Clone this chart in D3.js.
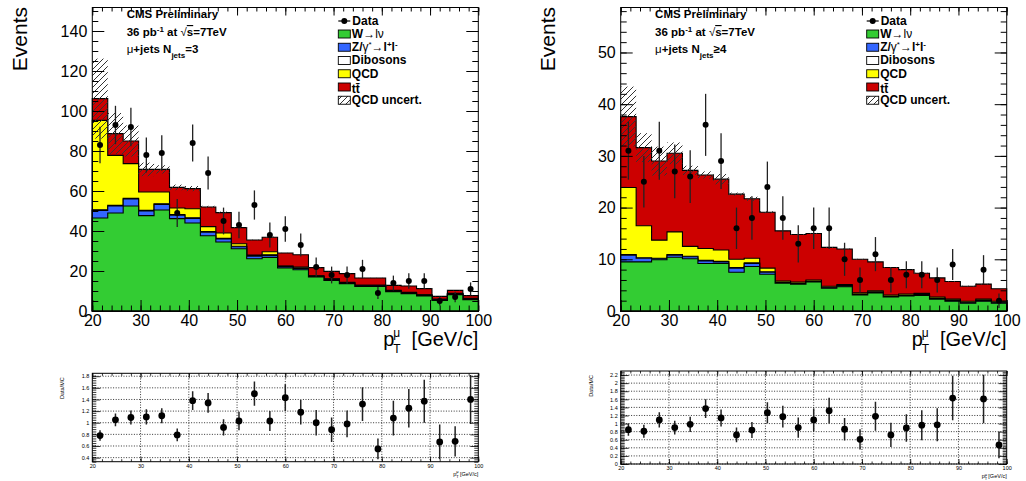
<!DOCTYPE html>
<html>
<head>
<meta charset="utf-8">
<script src="https://cdn.jsdelivr.net/npm/d3@7"></script>
<style>
  body { margin: 0; background: #fff; }
  svg { display: block; }
  text { font-family: "Liberation Sans", Arial, sans-serif; }
</style>
</head>
<body>
<div id="chart"></div>
<script>
// muon pT bins, 3.2 GeV wide
var binEdges = [20, 23.2, 26.4, 29.6, 32.8, 36, 39.2, 42.4, 45.6, 48.8, 52, 55.2, 58.4,
                61.6, 64.8, 68, 71.2, 74.4, 77.6, 80.8, 84, 87.2, 90.4, 93.6, 96.8, 100];
var xTicks = [20, 30, 40, 50, 60, 70, 80, 90, 100];

// ---- mu+jets, Njets = 3 ----
var data3    = [83, 93, 92, 78, 79, 49, 84, 69, 45, 43, 53, 38, 41, 33, 22, 18, 18, 21, 9, 14, 15, 15, 5, 7, 11];
var dataErr3 = [9.1, 9.6, 9.6, 8.8, 8.9, 7.0, 9.2, 8.3, 6.7, 6.6, 7.3, 6.2, 6.4, 5.7, 4.7, 4.2, 4.2, 4.6, 3.0, 3.7, 3.9, 3.9, 2.2, 2.6, 3.3];
var wjets3   = [46.5, 49.0, 52.5, 47.7, 50.5, 46.2, 44.0, 37.6, 34.5, 31.1, 26.1, 26.8, 21.5, 20.6, 17.0, 15.3, 13.7, 12.3, 12.3, 9.7, 8.7, 7.5, 5.3, 8.2, 5.7];
var zjets3   = [3.8, 3.5, 3.5, 2.3, 2.8, 1.7, 2.3, 1.8, 1.5, 1.0, 1.3, 1.0, 0.5, 0.7, 0.3, 0.5, 0.3, 0.3, 0.3, 0.3, 0.3, 0.3, 0.3, 0.3, 0.3];
var dibos3   = [0.3, 0.3, 0.3, 0.3, 0.3, 0.3, 0.3, 0.3, 0.3, 0.3, 0.3, 0.3, 0.3, 0.3, 0.2, 0.2, 0.2, 0.2, 0.2, 0.2, 0.2, 0.2, 0.2, 0.2, 0.2];
var qcd3     = [44.7, 25.0, 17.4, 9.2, 5.9, 3.3, 4.5, 2.5, 2.7, 1.2, 0.3, 1.5, 0.2, 0.4, 0.1, 0.1, 0.1, 0.1, 0.1, 0.1, 0.1, 0.1, 0.1, 0.1, 0.1];
var ttbar3   = [10.9, 10.9, 11.3, 11.3, 11.3, 10.3, 10.1, 9.8, 10.2, 8.1, 7.5, 7.3, 6.5, 6.1, 4.1, 3.7, 4.4, 3.6, 3.6, 2.5, 3.2, 3.1, 1.4, 1.5, 1.4];
var qcdUnc3  = [20, 10.3, 7.8, 3.4, 2.1, 1.4, 1.3, 0.6, 0.5, 0.3, 0.2, 0.3, 0.1, 0.1, 0.1, 0.1, 0.1, 0.1, 0.1, 0.1, 0.1, 0.1, 0.1, 0.1, 0.1];
var ratio3    = [0.78, 1.05, 1.09, 1.10, 1.12, 0.79, 1.38, 1.34, 0.92, 1.03, 1.50, 1.03, 1.43, 1.18, 1.00, 0.88, 0.98, 1.32, 0.55, 1.08, 1.25, 1.37, 0.67, 0.68, 1.40];
var ratioErr3 = [0.09, 0.11, 0.12, 0.13, 0.13, 0.11, 0.16, 0.17, 0.14, 0.16, 0.21, 0.17, 0.23, 0.21, 0.22, 0.21, 0.23, 0.29, 0.18, 0.30, 0.33, 0.37, 0.30, 0.26, 0.42];
var yTicks3 = [0, 20, 40, 60, 80, 100, 120, 140];
var ratioTicks3 = [0.4, 0.6, 0.8, 1, 1.2, 1.4, 1.6, 1.8];

// ---- mu+jets, Njets >= 4 ----
var data4    = [31, 25, 31, 27, 26, 36, 29, 16, 18, 24, 18, 13, 16, 16, 10, 6, 11, 6, 7, 7, 6, 9, null, 8, 2];
var dataErr4 = [5.6, 5.0, 5.6, 5.2, 5.1, 6.0, 5.4, 4.0, 4.2, 4.9, 4.2, 3.6, 4.0, 4.0, 3.2, 2.4, 3.3, 2.4, 2.6, 2.6, 2.4, 3.0, null, 2.8, 1.4];
var wjets4   = [9.5, 9.5, 9.9, 10.4, 10.1, 9.2, 9.2, 7.5, 8.6, 7.1, 5.4, 5.2, 5.6, 4.4, 4.7, 3.1, 3.5, 2.7, 2.9, 3.0, 2.3, 1.9, 1.5, 1.9, 1.5];
var zjets4   = [1.3, 0.7, 0.2, 0.4, 0.4, 0.5, 0.3, 0.8, 0.6, 0.4, 0.1, 0.1, 0.1, 0.1, 0.1, 0.1, 0.1, 0.1, 0.1, 0.1, 0.1, 0.1, 0.1, 0.1, 0.1];
var dibos4   = [0.1, 0.1, 0.1, 0.1, 0.1, 0.1, 0.1, 0.1, 0.1, 0.1, 0.1, 0.1, 0.1, 0.1, 0.1, 0.1, 0.1, 0.1, 0.1, 0.1, 0.1, 0.1, 0.1, 0.1, 0.1];
var qcd4     = [13.0, 6.2, 3.5, 4.4, 1.9, 2.3, 2.2, 1.6, 0.9, 0.7, 0.2, 0.2, 0.2, 0.2, 0.2, 0.2, 0.2, 0.2, 0.2, 0.2, 0.2, 0.2, 0.2, 0.2, 0.2];
var ttbar4   = [13.7, 15.1, 15.3, 15.2, 14.7, 14.2, 13.7, 12.6, 11.5, 10.8, 9.7, 9.2, 9.0, 7.5, 6.9, 6.5, 5.6, 5.3, 4.7, 3.9, 3.7, 3.4, 2.9, 2.9, 2.4];
var qcdUnc4  = [5.8, 2.8, 2.8, 2.1, 0.9, 0.7, 1.0, 0.3, 0.4, 0.2, 0.1, 0.1, 0.1, 0.1, 0.1, 0.1, 0.1, 0.1, 0.1, 0.1, 0.1, 0.1, 0.1, 0.1, 0.1];
var ratio4    = [0.85, 0.81, 1.09, 0.90, 0.98, 1.37, 1.14, 0.72, 0.84, 1.27, 1.17, 0.90, 1.09, 1.32, 0.86, 0.61, 1.18, 0.72, 0.89, 0.96, 0.97, 1.63, null, 1.61, 0.47];
var ratioErr4 = [0.15, 0.16, 0.19, 0.17, 0.19, 0.23, 0.21, 0.18, 0.20, 0.26, 0.27, 0.25, 0.28, 0.32, 0.28, 0.25, 0.36, 0.30, 0.34, 0.37, 0.41, 0.55, null, 0.60, 0.33];
var yTicks4 = [0, 10, 20, 30, 40, 50];
var ratioTicks4 = [0, 0.2, 0.4, 0.6, 0.8, 1, 1.2, 1.4, 1.6, 1.8, 2, 2.2];

var stackKeys = ["w", "z", "vv", "qcd", "tt"];
var stackColors = { w: "#33cc33", z: "#3366ff", vv: "#ffffff", qcd: "#ffff00", tt: "#cc0000" };

var font = "'Liberation Sans', Arial, sans-serif";

var svg = d3.select("#chart").append("svg")
    .attr("width", 1026)
    .attr("height", 481);

svg.append("rect").attr("width", 1026).attr("height", 481).attr("fill", "#fff");

// hatch for QCD uncertainty
var defs = svg.append("defs");
defs.append("pattern")
    .attr("id", "hatch")
    .attr("patternUnits", "userSpaceOnUse")
    .attr("width", 6).attr("height", 6)
    .append("path")
    .attr("d", "M0,6 L6,0 M-1.5,1.5 L1.5,-1.5 M4.5,7.5 L7.5,4.5")
    .attr("stroke", "#333")
    .attr("stroke-width", 1);

function styleAxis(g, size) {
    g.attr("font-family", font).attr("font-size", size);
    g.select(".domain").remove();
    g.selectAll("text").attr("fill", "#000");
}

function drawPanel(p) {
    var g = svg.append("g");
    var top = 7.5, bottom = 311;

    var x = d3.scaleLinear().domain([20, 100]).range([p.x0, p.x1]);
    var y = d3.scaleLinear().domain([0, p.yMax]).range([bottom, top]);

    // table for the stack
    var rows = p.w.map(function(d, i) {
        return { w: p.w[i], z: p.z[i], vv: p.vv[i], qcd: p.qcd[i], tt: p.tt[i] };
    });
    var series = d3.stack().keys(stackKeys)(rows);

    // ROOT-like: draw cumulative histograms from the biggest down
    function histPath(tops) {
        var s = "M" + x(20) + "," + y(0);
        tops.forEach(function(t, i) {
            s += "L" + x(binEdges[i]) + "," + y(t) + "L" + x(binEdges[i + 1]) + "," + y(t);
        });
        return s + "L" + x(100) + "," + y(0) + "Z";
    }
    series.slice().reverse().forEach(function(s) {
        g.append("path")
            .attr("d", histPath(s.map(function(d) { return d[1]; })))
            .attr("fill", stackColors[s.key])
            .attr("stroke", "#000")
            .attr("stroke-width", 1.1);
    });

    // QCD uncertainty band around total
    var total = series[series.length - 1].map(function(d) { return d[1]; });
    g.append("g").selectAll("rect")
        .data(p.unc)
        .enter().append("rect")
        .attr("x", function(d, i) { return x(binEdges[i]); })
        .attr("width", function(d, i) { return x(binEdges[i + 1]) - x(binEdges[i]); })
        .attr("y", function(d, i) { return y(total[i] + d); })
        .attr("height", function(d, i) { return y(total[i] - d) - y(total[i] + d); })
        .attr("fill", "url(#hatch)");

    // data points
    var pts = p.data.map(function(d, i) {
        return { v: d, e: p.err[i], c: (binEdges[i] + binEdges[i + 1]) / 2 };
    }).filter(function(d) { return d.v != null; });
    var dg = g.append("g");
    dg.selectAll("line").data(pts).enter().append("line")
        .attr("x1", function(d) { return x(d.c); })
        .attr("x2", function(d) { return x(d.c); })
        .attr("y1", function(d) { return y(d.v - d.e); })
        .attr("y2", function(d) { return y(d.v + d.e); })
        .attr("stroke", "#222").attr("stroke-width", 1.3);
    dg.selectAll("circle").data(pts).enter().append("circle")
        .attr("cx", function(d) { return x(d.c); })
        .attr("cy", function(d) { return y(d.v); })
        .attr("r", 3)
        .attr("fill", "#000");

    // axes, ticks inside on all four sides
    var yMinor = d3.range(0, p.yMax, p.yMinorStep);
    var xMinor = d3.range(20, 100.01, 2);

    var gl = g.append("g").attr("transform", "translate(" + p.x0 + ",0)")
        .call(d3.axisLeft(y).tickValues(p.yTicks).tickSizeInner(-12).tickSizeOuter(0).tickPadding(5));
    styleAxis(gl, 16);
    styleAxis(g.append("g").attr("transform", "translate(" + p.x0 + ",0)")
        .call(d3.axisLeft(y).tickValues(yMinor).tickSizeInner(-6).tickSizeOuter(0).tickFormat("")), 10);
    styleAxis(g.append("g").attr("transform", "translate(" + p.x1 + ",0)")
        .call(d3.axisRight(y).tickValues(p.yTicks).tickSizeInner(-12).tickSizeOuter(0).tickFormat("")), 10);
    styleAxis(g.append("g").attr("transform", "translate(" + p.x1 + ",0)")
        .call(d3.axisRight(y).tickValues(yMinor).tickSizeInner(-6).tickSizeOuter(0).tickFormat("")), 10);

    var gb = g.append("g").attr("transform", "translate(0," + bottom + ")")
        .call(d3.axisBottom(x).tickValues(xTicks).tickSizeInner(-11).tickSizeOuter(0).tickPadding(4));
    styleAxis(gb, 16);
    styleAxis(g.append("g").attr("transform", "translate(0," + bottom + ")")
        .call(d3.axisBottom(x).tickValues(xMinor).tickSizeInner(-5.5).tickSizeOuter(0).tickFormat("")), 10);
    styleAxis(g.append("g").attr("transform", "translate(0," + top + ")")
        .call(d3.axisTop(x).tickValues(xTicks).tickSizeInner(-8).tickSizeOuter(0).tickFormat("")), 10);
    styleAxis(g.append("g").attr("transform", "translate(0," + top + ")")
        .call(d3.axisTop(x).tickValues(xMinor).tickSizeInner(-4).tickSizeOuter(0).tickFormat("")), 10);

    g.append("rect")
        .attr("x", p.x0).attr("y", top)
        .attr("width", p.x1 - p.x0).attr("height", bottom - top)
        .attr("fill", "none").attr("stroke", "#000").attr("stroke-width", 1);

    // y title
    g.append("text")
        .attr("transform", "translate(" + (p.x0 - 65.3) + ",7) rotate(-90)")
        .attr("text-anchor", "end")
        .attr("font-size", 21)
        .text("Events");

    // x title  p_T^mu [GeV/c]
    var xt = g.append("g").attr("font-size", 20);
    xt.append("text").attr("x", p.x1 - 95).attr("y", 346).text("p");
    xt.append("text").attr("x", p.x1 - 85).attr("y", 337).attr("font-size", 12).text("μ");
    xt.append("text").attr("x", p.x1 - 85).attr("y", 353).attr("font-size", 12).text("T");
    xt.append("text").attr("x", p.x1).attr("y", 346).attr("text-anchor", "end").text("[GeV/c]");

    // labels top-left
    var lx = p.x0 + 34.4;
    var tg = g.append("g").attr("font-size", 11.5).attr("font-weight", "bold");
    tg.append("text").attr("x", lx).attr("y", 18).text("CMS Preliminary");
    var t2 = tg.append("text").attr("x", lx).attr("y", 36);
    t2.append("tspan").text("36 pb");
    t2.append("tspan").attr("font-size", 8).attr("dy", -4.5).text("-1");
    t2.append("tspan").attr("dy", 4.5).text(" at ");
    t2.append("tspan").attr("font-weight", "normal").text("√");
    t2.append("tspan").attr("text-decoration", "overline").text("s");
    t2.append("tspan").text("=7TeV");
    var t3 = tg.append("text").attr("x", lx).attr("y", 53);
    t3.append("tspan").attr("font-weight", "normal").text("μ");
    t3.append("tspan").text("+jets N");
    t3.append("tspan").attr("font-size", 8).attr("dy", 4.5).text("jets");
    t3.append("tspan").attr("dy", -4.5).text(p.njets);

    drawLegend(g, p.x0 + 246);
    drawRatio(p);
}

function drawLegend(g, bx) {
    var lg = g.append("g").attr("font-size", 12).attr("font-weight", "bold");
    // data
    lg.append("line").attr("x1", bx).attr("x2", bx + 12).attr("y1", 21).attr("y2", 21)
        .attr("stroke", "#000").attr("stroke-width", 1.2);
    lg.append("circle").attr("cx", bx + 6).attr("cy", 21).attr("r", 3).attr("fill", "#000");
    lg.append("text").attr("x", bx + 14).attr("y", 25.3).text("Data");

    var entries = [
        { key: "w", fill: stackColors.w },
        { key: "z", fill: stackColors.z },
        { key: "vv", fill: stackColors.vv },
        { key: "qcd", fill: stackColors.qcd },
        { key: "tt", fill: stackColors.tt },
        { key: "unc", fill: "url(#hatch)" }
    ];
    entries.forEach(function(e, k) {
        var by = 30 + 13.25 * k;
        lg.append("rect").attr("x", bx).attr("y", by).attr("width", 12).attr("height", 8)
            .attr("fill", e.fill).attr("stroke", "#000").attr("stroke-width", 0.9);
        var t = lg.append("text").attr("x", bx + 13.5).attr("y", by + 7.8);
        if (e.key === "w") {
            t.append("tspan").text("W");
            t.append("tspan").attr("font-weight", "normal").text("→lν");
        } else if (e.key === "z") {
            t.append("tspan").text("Z/");
            t.append("tspan").attr("font-weight", "normal").text("γ");
            t.append("tspan").attr("font-weight", "normal").attr("font-size", 8).attr("dy", -4).text("*");
            t.append("tspan").attr("font-weight", "normal").attr("dy", 4).text("→");
            t.append("tspan").text("l");
            t.append("tspan").attr("font-size", 8).attr("dy", -4).text("+");
            t.append("tspan").attr("dy", 4).text("l");
            t.append("tspan").attr("font-size", 8).attr("dy", -4).text("-");
        } else if (e.key === "vv") {
            t.text("Dibosons");
        } else if (e.key === "qcd") {
            t.text("QCD");
        } else if (e.key === "tt") {
            t.attr("y", by + 10).text("tt\u0304");
        } else {
            t.text("QCD uncert.");
        }
    });
}

function drawRatio(p) {
    var g = svg.append("g");
    var top = p.rTop, bottom = p.rBottom;
    var x = d3.scaleLinear().domain([20, 100]).range([p.x0, p.x1]);
    var y = d3.scaleLinear().domain(p.rDomain).range([bottom, top]);

    // dotted grid
    g.append("g").selectAll("line").data(xTicks.slice(1, -1)).enter().append("line")
        .attr("x1", function(d) { return x(d); }).attr("x2", function(d) { return x(d); })
        .attr("y1", top).attr("y2", bottom)
        .attr("stroke", "#000").attr("stroke-width", 0.8).attr("stroke-dasharray", "1,1.6");
    g.append("g").selectAll("line").data(p.rTicks).enter().append("line")
        .attr("x1", p.x0).attr("x2", p.x1)
        .attr("y1", function(d) { return y(d); }).attr("y2", function(d) { return y(d); })
        .attr("stroke", "#000").attr("stroke-width", 0.8).attr("stroke-dasharray", "1,1.6");

    var yMinor = d3.range(p.rDomain[0], p.rDomain[1], 0.04);
    var xMinor = d3.range(20, 100.01, 2);

    var gl = g.append("g").attr("transform", "translate(" + p.x0 + ",0)")
        .call(d3.axisLeft(y).tickValues(p.rTicks).tickSizeInner(-8).tickSizeOuter(0).tickPadding(3)
            .tickFormat(d3.format("~g")));
    styleAxis(gl, 5.5);
    styleAxis(g.append("g").attr("transform", "translate(" + p.x0 + ",0)")
        .call(d3.axisLeft(y).tickValues(yMinor).tickSizeInner(-4).tickSizeOuter(0).tickFormat("")), 5);
    styleAxis(g.append("g").attr("transform", "translate(" + p.x1 + ",0)")
        .call(d3.axisRight(y).tickValues(p.rTicks).tickSizeInner(-8).tickSizeOuter(0).tickFormat("")), 5);
    styleAxis(g.append("g").attr("transform", "translate(" + p.x1 + ",0)")
        .call(d3.axisRight(y).tickValues(yMinor).tickSizeInner(-4).tickSizeOuter(0).tickFormat("")), 5);
    var gb = g.append("g").attr("transform", "translate(0," + bottom + ")")
        .call(d3.axisBottom(x).tickValues(xTicks).tickSizeInner(-5).tickSizeOuter(0).tickPadding(2));
    styleAxis(gb, 5.5);
    styleAxis(g.append("g").attr("transform", "translate(0," + bottom + ")")
        .call(d3.axisBottom(x).tickValues(xMinor).tickSizeInner(-2.5).tickSizeOuter(0).tickFormat("")), 5);
    styleAxis(g.append("g").attr("transform", "translate(0," + top + ")")
        .call(d3.axisTop(x).tickValues(xTicks).tickSizeInner(-5).tickSizeOuter(0).tickFormat("")), 5);
    styleAxis(g.append("g").attr("transform", "translate(0," + top + ")")
        .call(d3.axisTop(x).tickValues(xMinor).tickSizeInner(-2.5).tickSizeOuter(0).tickFormat("")), 5);
    g.selectAll(".tick line").attr("stroke-width", 0.8);

    // points
    var pts = p.ratio.map(function(d, i) {
        return { v: d, e: p.ratioErr[i], c: (binEdges[i] + binEdges[i + 1]) / 2 };
    }).filter(function(d) { return d.v != null; });
    var clipId = "clip" + Math.round(p.x0);
    g.append("clipPath").attr("id", clipId).append("rect")
        .attr("x", p.x0).attr("y", top).attr("width", p.x1 - p.x0).attr("height", bottom - top);
    var pg = g.append("g").attr("clip-path", "url(#" + clipId + ")");
    pg.selectAll("line").data(pts).enter().append("line")
        .attr("x1", function(d) { return x(d.c); }).attr("x2", function(d) { return x(d.c); })
        .attr("y1", function(d) { return y(d.v - d.e); })
        .attr("y2", function(d) { return y(d.v + d.e); })
        .attr("stroke", "#222").attr("stroke-width", 1.5);
    pg.selectAll("circle").data(pts).enter().append("circle")
        .attr("cx", function(d) { return x(d.c); })
        .attr("cy", function(d) { return y(d.v); })
        .attr("r", 3.4).attr("fill", "#000");

    g.append("rect")
        .attr("x", p.x0).attr("y", top).attr("width", p.x1 - p.x0).attr("height", bottom - top)
        .attr("fill", "none").attr("stroke", "#000").attr("stroke-width", 1);

    g.append("text")
        .attr("transform", "translate(" + (p.x0 - 28) + "," + (top + 4) + ") rotate(-90)")
        .attr("text-anchor", "end").attr("font-size", 5.5)
        .text("Data/MC");

    var xt = g.append("g").attr("font-size", 5.5);
    xt.append("text").attr("x", p.x1 - 25).attr("y", bottom + 14).text("p");
    xt.append("text").attr("x", p.x1 - 22).attr("y", bottom + 11.5).attr("font-size", 4).text("μ");
    xt.append("text").attr("x", p.x1 - 22).attr("y", bottom + 16).attr("font-size", 4).text("T");
    xt.append("text").attr("x", p.x1).attr("y", bottom + 14).attr("text-anchor", "end").text("[GeV/c]");
}

drawPanel({
    x0: 92.3, x1: 478.3, yMax: 151.75, yTicks: yTicks3, yMinorStep: 5,
    w: wjets3, z: zjets3, vv: dibos3, qcd: qcd3, tt: ttbar3, unc: qcdUnc3,
    data: data3, err: dataErr3, njets: "=3",
    ratio: ratio3, ratioErr: ratioErr3, rTicks: ratioTicks3,
    rTop: 373.3, rBottom: 461.7, rDomain: [0.33, 1.85]
});

drawPanel({
    x0: 620.7, x1: 1006.7, yMax: 58.7, yTicks: yTicks4, yMinorStep: 2,
    w: wjets4, z: zjets4, vv: dibos4, qcd: qcd4, tt: ttbar4, unc: qcdUnc4,
    data: data4, err: dataErr4, njets: "≥4",
    ratio: ratio4, ratioErr: ratioErr4, rTicks: ratioTicks4,
    rTop: 371, rBottom: 464, rDomain: [0, 2.3]
});
</script>
</body>
</html>
